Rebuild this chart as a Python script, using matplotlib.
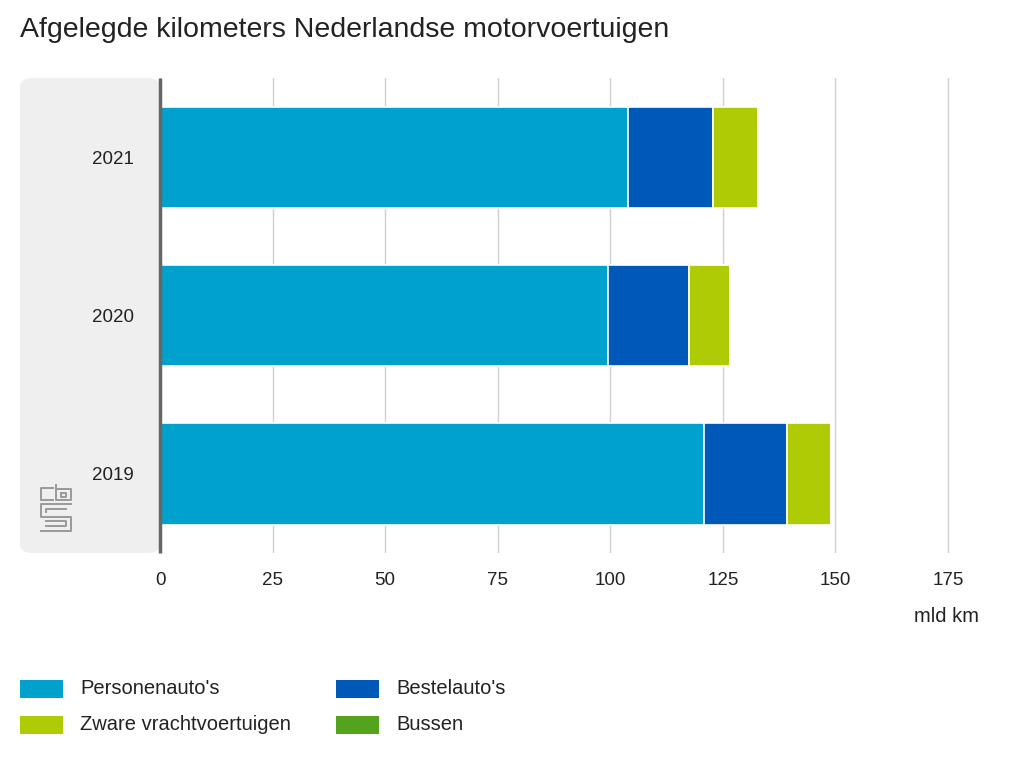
import numpy as np
import matplotlib.pyplot as plt
from matplotlib.patches import FancyBboxPatch, Rectangle
from matplotlib.lines import Line2D

plt.rcParams['font.family'] = ['Liberation Sans', 'DejaVu Sans']

# data (mld km)
jaren = ['2019', '2020', '2021']
personenautos = [120.9, 99.6, 104.0]
bestelautos = [18.4, 17.8, 18.9]
zware_vracht = [9.8, 9.3, 10.0]
bussen = [0.0, 0.0, 0.0]

series = ["Personenauto's", "Bestelauto's", "Zware vrachtvoertuigen", "Bussen"]
kleuren = ['#00a1cd', '#0058b8', '#afcb05', '#53a31d']
waarden = [personenautos, bestelautos, zware_vracht, bussen]

W, H = 1024, 768
fig = plt.figure(figsize=(W / 100, H / 100), dpi=100)

def fx(px):
    return px / W

def fy(py):
    return 1 - py / H

# grey panel behind the year labels
panel = FancyBboxPatch((fx(20), fy(553)), fx(140), (553 - 78) / H,
                       boxstyle='round,pad=0,rounding_size=0.012',
                       transform=fig.transFigure, facecolor='#efefef',
                       edgecolor='none', zorder=0)
fig.patches.append(panel)

ax = fig.add_axes([fx(160), fy(553), fx(842), (553 - 78) / H])
ax.set_zorder(2)
ax.set_facecolor('none')

y = np.arange(len(jaren))
links = np.zeros(len(jaren))
for naam, kleur, vals in zip(series, kleuren, waarden):
    ax.barh(y, vals, left=links, height=0.64, color=kleur,
            edgecolor='white', linewidth=1.2, zorder=3)
    links = links + np.array(vals)

ax.set_xlim(0, 187)
ax.set_ylim(-0.5, 2.5)
ax.set_xticks(np.arange(0, 176, 25))
ax.set_yticks(y)
ax.set_yticklabels(jaren)
ax.grid(axis='x', color='#d0d0d0', linewidth=1, zorder=0)
for s in ['top', 'right', 'bottom']:
    ax.spines[s].set_visible(False)
ax.spines['left'].set_color('#666666')
ax.spines['left'].set_linewidth(2.5)
ax.spines['left'].set_zorder(5)
ax.spines['left'].set_capstyle('butt')
ax.tick_params(axis='both', length=0, labelsize=13.5, colors='#222222')
ax.tick_params(axis='x', pad=14)
ax.tick_params(axis='y', pad=19)

fig.text(fx(20), fy(30), 'Afgelegde kilometers Nederlandse motorvoertuigen',
         fontsize=20.5, color='#222222', va='center', ha='left')
fig.text(fx(979), fy(617), 'mld km', fontsize=14.5, color='#222222',
         va='center', ha='right')

# legend
posities = [(20, 689), (336, 689), (20, 725), (336, 725)]
volgorde = [0, 1, 2, 3]
for i, (px, py) in zip(volgorde, posities):
    fig.patches.append(Rectangle((fx(px), fy(py + 9)), fx(43), 18 / H,
                                 transform=fig.transFigure,
                                 facecolor=kleuren[i], edgecolor='none'))
    fig.text(fx(px + 60), fy(py), series[i], fontsize=14.5,
             color='#222222', va='center', ha='left')

# cbs logo (rough)
logo = [
    [(53, 488), (41, 488), (41, 500), (53, 500)],
    [(56, 485), (56, 500), (71, 500), (71, 489), (56, 489)],
    [(61, 493), (66, 493), (66, 497), (61, 497), (61, 493)],
    [(71, 504), (41, 504), (41, 517), (71, 517), (71, 531), (41, 531)],
    [(66, 509), (46, 509), (46, 512)],
    [(46, 521), (66, 521), (66, 526), (46, 526)],
]
for pts in logo:
    xs = [fx(p[0]) for p in pts]
    ys = [fy(p[1]) for p in pts]
    fig.lines.append(Line2D(xs, ys, transform=fig.transFigure,
                            color='#999999', linewidth=1.4))

fig.savefig('out.png', dpi=100)
